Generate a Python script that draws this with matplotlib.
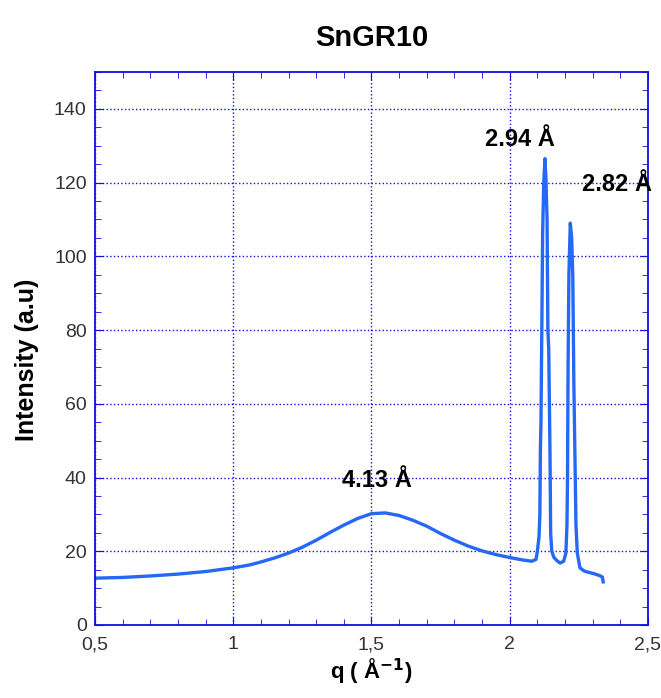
import numpy as np
import matplotlib.pyplot as plt
from matplotlib.ticker import MultipleLocator, FuncFormatter

plt.rcParams['font.family'] = ['Liberation Sans', 'DejaVu Sans']

q = [0.5, 0.6, 0.7, 0.8, 0.9, 0.95, 1.0, 1.03, 1.06, 1.1, 1.15, 1.2, 1.25,
     1.3, 1.35, 1.4, 1.45, 1.5, 1.55, 1.6, 1.65, 1.7, 1.75, 1.8, 1.85, 1.9,
     1.95, 2.0, 2.05, 2.08, 2.095,
     2.100, 2.106, 2.109, 2.111, 2.113, 2.116, 2.119, 2.123, 2.1275, 2.131,
     2.135, 2.138, 2.141, 2.1456, 2.148, 2.152, 2.16, 2.17, 2.182, 2.195,
     2.203, 2.207, 2.209, 2.211, 2.214, 2.219, 2.224, 2.228, 2.232, 2.236,
     2.2396, 2.2444, 2.254, 2.27, 2.29, 2.31, 2.325, 2.335, 2.338]
intensity = [12.7, 12.9, 13.3, 13.8, 14.5, 15.0, 15.5, 15.9, 16.3, 17.1, 18.2,
             19.5, 21.1, 23.0, 25.1, 27.1, 28.9, 30.2, 30.4, 29.7, 28.4, 26.8,
             24.8, 23.0, 21.4, 20.1, 19.1, 18.3, 17.6, 17.3, 17.8,
             20, 24, 30, 48, 55, 80, 106, 120, 126.5, 121,
             110, 80, 75, 47, 25, 20, 18.3, 17.5, 16.8, 17.3,
             19.5, 27, 40, 70, 95, 109, 105, 95, 65, 45,
             27, 19.5, 15.5, 14.6, 14.2, 13.8, 13.4, 13.0, 11.7]

labels = ['2.94 Å', '2.82 Å', '4.13 Å']
label_q = [2.037, 2.388, 1.52]
label_i = [131.8, 119.6, 39.1]

blue = '#1010e0'

fig = plt.figure(figsize=(6.61, 6.98), dpi=100)
ax = fig.add_axes([0.1437, 0.1046, 0.8366, 0.7922])
ax.plot(q, intensity, color='#2468f5', lw=2.4)

for t, x, y in zip(labels, label_q, label_i):
    ax.text(x, y, t, ha='center', va='center', fontsize=17, fontweight='bold')

ax.set_xlim(0.5, 2.5)
ax.set_ylim(0, 150)
ax.xaxis.set_major_locator(MultipleLocator(0.5))
ax.xaxis.set_minor_locator(MultipleLocator(0.1))
ax.yaxis.set_major_locator(MultipleLocator(20))
ax.yaxis.set_minor_locator(MultipleLocator(5))
ax.xaxis.set_major_formatter(FuncFormatter(lambda v, p: ('%g' % v).replace('.', ',')))
ax.grid(True, which='major', color=blue, ls=':', lw=1)
ax.tick_params(which='both', direction='in', color=blue, top=True, right=True,
               labelsize=14, labelcolor='#333333')
ax.tick_params(which='major', length=6)
ax.tick_params(which='minor', length=4)
ax.tick_params(axis='x', pad=8)
ax.tick_params(axis='y', pad=6)
for s in ax.spines.values():
    s.set_color(blue)
    s.set_linewidth(1.3)

ax.set_ylabel('Intensity (a.u)', fontsize=18, fontweight='bold')
ax.yaxis.set_label_coords(-0.102, 0.48)
ax.set_xlabel('q ( Å$^{\\mathbf{-1}}$)', fontsize=16, fontweight='bold', labelpad=2)
fig.text(0.563, 0.946, 'SnGR10', ha='center', va='center', fontsize=21, fontweight='bold')

fig.savefig('out.png')
